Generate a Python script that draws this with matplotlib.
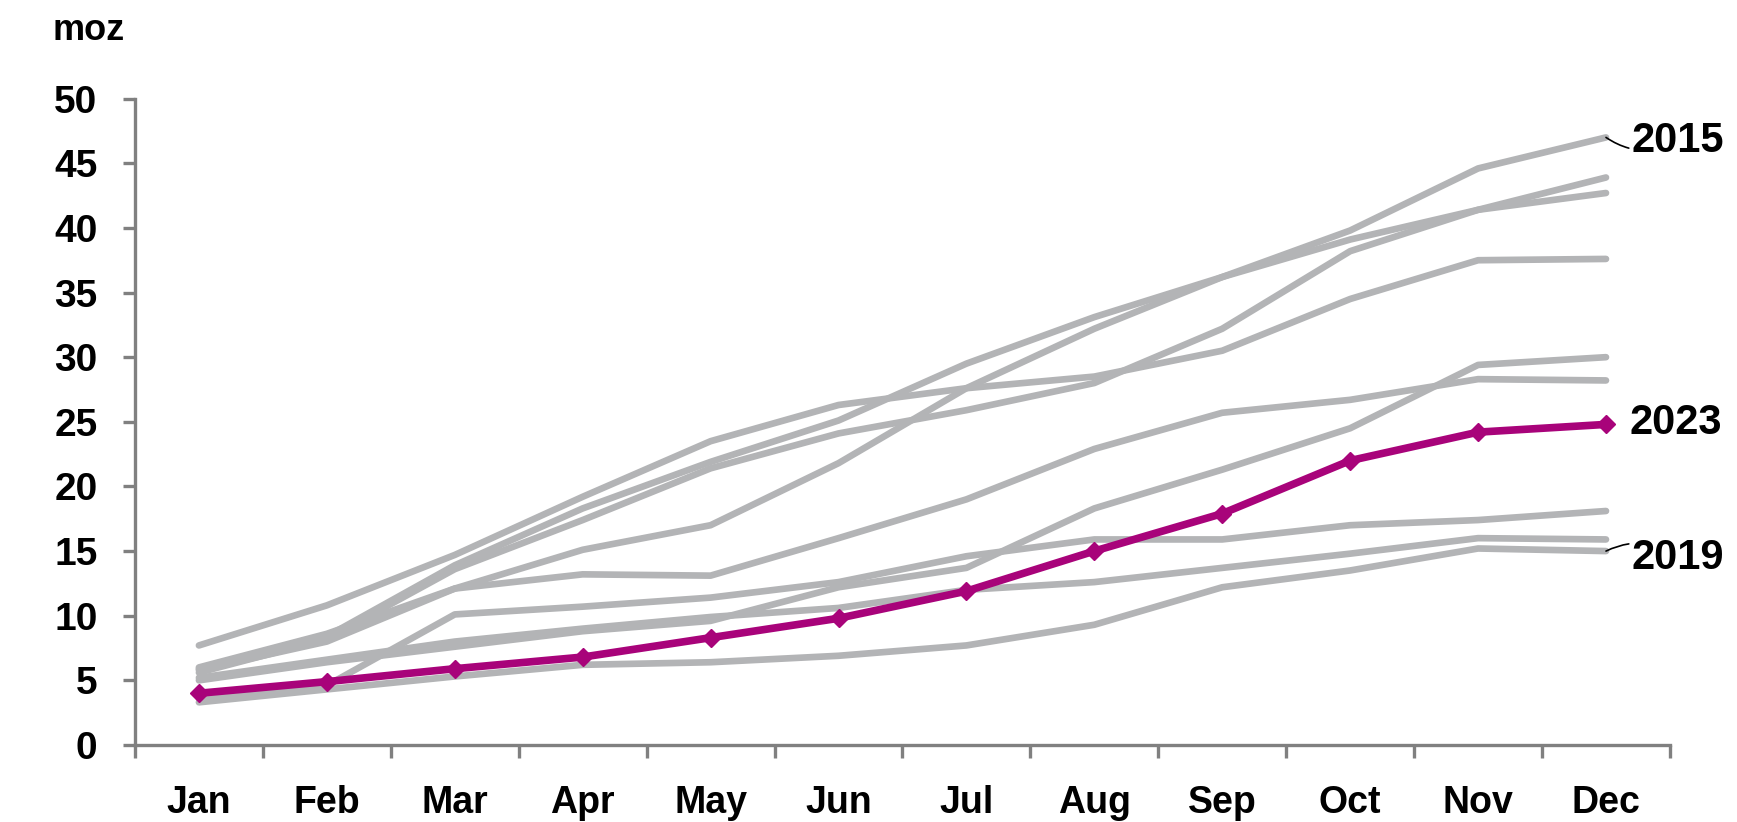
import matplotlib.pyplot as plt
import numpy as np

plt.rcParams['font.family'] = ['Liberation Sans', 'DejaVu Sans']
plt.rcParams['font.weight'] = 'bold'

months = ['Jan', 'Feb', 'Mar', 'Apr', 'May', 'Jun',
          'Jul', 'Aug', 'Sep', 'Oct', 'Nov', 'Dec']

# cumulative output by year, moz
y2015 = [5.9, 8.4, 13.9, 18.3, 21.9, 25.1, 29.5, 33.1, 36.2, 39.8, 44.6, 47.0]
y2019 = [3.3, 4.3, 5.3, 6.2, 6.4, 6.9, 7.7, 9.3, 12.2, 13.5, 15.2, 15.0]
y2023 = [4.0, 4.9, 5.9, 6.8, 8.3, 9.8, 11.9, 15.0, 17.9, 22.0, 24.2, 24.8]

# other years, drawn in grey without labels
other_1 = [7.7, 10.8, 14.7, 19.2, 23.5, 26.3, 27.6, 28.5, 30.5, 34.5, 37.5, 37.6]
other_2 = [6.0, 8.6, 12.1, 15.1, 17.0, 21.8, 27.6, 32.2, 36.2, 39.1, 41.4, 42.7]
other_3 = [5.6, 8.2, 13.6, 17.4, 21.4, 24.1, 25.9, 28.0, 32.2, 38.2, 41.4, 43.9]
other_4 = [5.8, 8.0, 12.1, 13.2, 13.1, 16.0, 19.0, 22.9, 25.7, 26.7, 28.3, 28.2]
other_5 = [3.6, 4.6, 10.1, 10.7, 11.4, 12.6, 14.6, 15.9, 15.9, 17.0, 17.4, 18.1]
other_6 = [5.2, 6.6, 8.0, 9.0, 9.9, 10.6, 12.0, 12.6, 13.7, 14.8, 16.0, 15.9]
other_7 = [5.0, 6.4, 7.6, 8.8, 9.6, 12.2, 13.7, 18.3, 21.3, 24.5, 29.4, 30.0]

grey = '#b3b4b6'
purple = '#a8037a'
axis_grey = '#808080'

fig = plt.figure(figsize=(17.37, 8.22), dpi=100)
ax = fig.add_axes([0.0777, 0.0937, 0.8837, 0.7863])

x = np.arange(len(months))
for s in [other_1, other_2, other_3, other_4, other_5, other_6, other_7, y2015, y2019]:
    ax.plot(x, s, color=grey, lw=4.8, solid_capstyle='round', solid_joinstyle='round', zorder=2)

ax.plot(x, y2023, color=purple, lw=5.5, marker='D', markersize=9,
        markeredgecolor=purple, zorder=3)

ax.set_xlim(-0.5, 11.5)
ax.set_ylim(0, 50)
ax.set_yticks(range(0, 51, 5))
ax.set_xticks(x)
ax.set_xticklabels(months)
ax.set_xticks(np.arange(-0.5, 12, 1), minor=True)

for side in ['top', 'right']:
    ax.spines[side].set_visible(False)
for side in ['left', 'bottom']:
    ax.spines[side].set_color(axis_grey)
    ax.spines[side].set_linewidth(2.4)

ax.tick_params(axis='y', direction='out', length=9, width=2.4, color=axis_grey,
               labelsize=28, pad=18)
ax.tick_params(axis='x', which='major', length=0, labelsize=27, pad=29)
ax.tick_params(axis='x', which='minor', direction='out', length=9, width=2.4,
               color=axis_grey)

# year labels on the right
ax.annotate('2015', xy=(11, y2015[-1]), xytext=(11.2, y2015[-1] - 0.3),
            fontsize=30, va='center', ha='left', annotation_clip=False,
            arrowprops=dict(arrowstyle='-', color='black', lw=1.2,
                            connectionstyle='arc3,rad=-0.3', shrinkA=0, shrinkB=0))
ax.text(11.18, y2023[-1] + 0.1, '2023', fontsize=30, va='center', ha='left')
ax.annotate('2019', xy=(11, y2019[-1]), xytext=(11.2, y2019[-1] - 0.5),
            fontsize=30, va='center', ha='left', annotation_clip=False,
            arrowprops=dict(arrowstyle='-', color='black', lw=1.2,
                            connectionstyle='arc3,rad=0.3', shrinkA=0, shrinkB=0))

fig.text(0.030, 0.963, 'moz', fontsize=26, va='center', ha='left')

fig.savefig('out.png', dpi=100, facecolor='white')
